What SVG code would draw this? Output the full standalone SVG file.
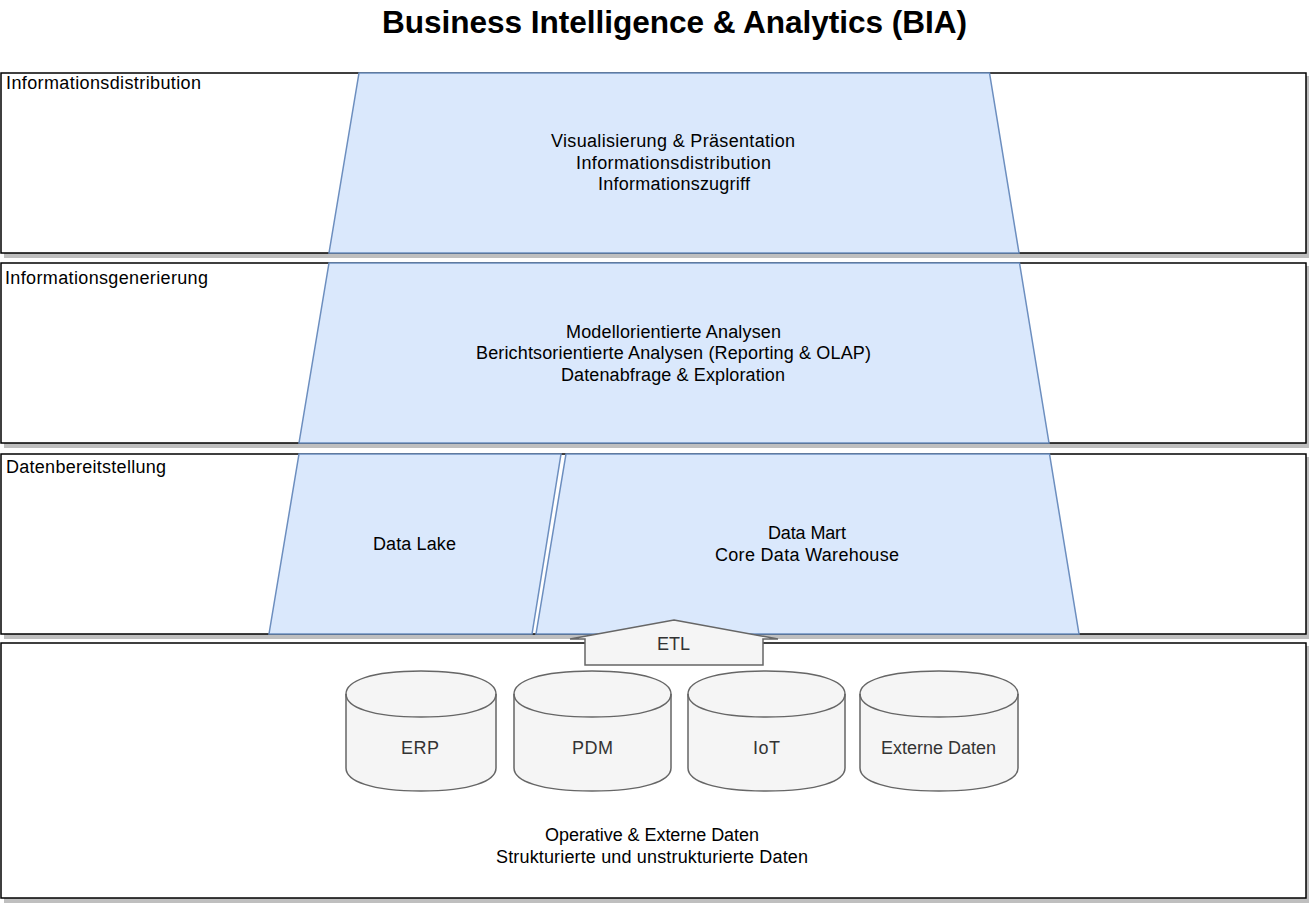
<svg xmlns="http://www.w3.org/2000/svg" width="1311" height="909" viewBox="0 0 1311 909">
<style>
text{font-family:"Liberation Sans",Arial,sans-serif;font-size:18px;fill:#000;text-anchor:middle}
.l{text-anchor:start}
.g{fill:#333}
.t{font-size:31.6px;font-weight:bold}
.layer{fill:#fff;stroke:#000;stroke-width:1.5}
.sh{fill:#bfbfbf}
.tz{fill:#dae8fc;stroke:#6c8ebf;stroke-width:1.5}
.gr{fill:#f5f5f5;stroke:#666;stroke-width:1.5}
</style>
<rect width="1311" height="909" fill="#fff"/>
<text class="t" x="674.5" y="33" textLength="585">Business Intelligence &amp; Analytics (BIA)</text>
<g id="layer-distribution">
<rect class="sh" x="4" y="76" width="1305" height="182"/>
<rect class="layer" x="1" y="73" width="1305" height="180"/>
<text class="l" x="6" y="89" textLength="195">Informationsdistribution</text>
</g>
<g id="layer-generierung">
<rect class="sh" x="4" y="266" width="1305" height="182"/>
<rect class="layer" x="1" y="263" width="1305" height="180"/>
<text class="l" x="5" y="284" textLength="203">Informationsgenerierung</text>
</g>
<g id="layer-bereitstellung">
<rect class="sh" x="4" y="457" width="1305" height="182"/>
<rect class="layer" x="1" y="454" width="1305" height="180"/>
<text class="l" x="6" y="473" textLength="160">Datenbereitstellung</text>
</g>
<g id="layer-daten">
<rect class="sh" x="4" y="646" width="1305" height="257"/>
<rect class="layer" x="1" y="643" width="1305" height="255"/>
<text x="652" y="841" textLength="214">Operative &amp; Externe Daten</text>
<text x="652" y="863" textLength="312">Strukturierte und unstrukturierte Daten</text>
</g>
<g id="visualisierung">
<polygon class="tz" points="359,73 989.500,73 1019,253 329,253"/>
<text x="673" y="147" textLength="244">Visualisierung &amp; Präsentation</text>
<text x="673.500" y="169" textLength="195">Informationsdistribution</text>
<text x="674" y="190" textLength="152">Informationszugriff</text>
</g>
<g id="analysen">
<polygon class="tz" points="329,263 1019.500,263 1049,443 299,443"/>
<text x="673.500" y="338" textLength="215">Modellorientierte Analysen</text>
<text x="673.500" y="359" textLength="395">Berichtsorientierte Analysen (Reporting &amp; OLAP)</text>
<text x="673" y="381" textLength="224">Datenabfrage &amp; Exploration</text>
</g>
<g id="data-lake">
<polygon class="tz" points="299,454 561,454 532,634 269,634"/>
<text x="414.500" y="550" textLength="83">Data Lake</text>
</g>
<g id="data-mart">
<polygon class="tz" points="566,454 1049.500,454 1079,634 536,634"/>
<text x="807" y="539" textLength="78">Data Mart</text>
<text x="807" y="561" textLength="184">Core Data Warehouse</text>
</g>
<g id="etl">
<polygon class="gr" points="674,620 778,639 763,639 763,665 585,665 585,639 570,639"/>
<text class="g" x="673.500" y="650" textLength="33">ETL</text>
</g>
<g id="erp">
<path class="gr" d="M346,694C346,681 371,671 421,671C471,671 496,681 496,694V768C496,781 471,791 421,791C371,791 346,781 346,768Z"/>
<path fill="none" stroke="#666" stroke-width="1.5" d="M346,694C346,707 371,717 421,717C471,717 496,707 496,694"/>
<text class="g" x="420" y="754" textLength="38">ERP</text>
</g>
<g id="pdm">
<path class="gr" d="M514,694C514,681 540,671 592,671C644,671 671,681 671,694V768C671,781 644,791 592,791C540,791 514,781 514,768Z"/>
<path fill="none" stroke="#666" stroke-width="1.5" d="M514,694C514,707 540,717 592,717C644,717 671,707 671,694"/>
<text class="g" x="592.500" y="754" textLength="41">PDM</text>
</g>
<g id="iot">
<path class="gr" d="M688,694C688,681 714,671 766,671C819,671 845,681 845,694V768C845,781 819,791 766,791C714,791 688,781 688,768Z"/>
<path fill="none" stroke="#666" stroke-width="1.5" d="M688,694C688,707 714,717 766,717C819,717 845,707 845,694"/>
<text class="g" x="766.500" y="754" textLength="27">IoT</text>
</g>
<g id="externe-daten">
<path class="gr" d="M860,694C860,681 886,671 939,671C991,671 1018,681 1018,694V768C1018,781 991,791 939,791C886,791 860,781 860,768Z"/>
<path fill="none" stroke="#666" stroke-width="1.5" d="M860,694C860,707 886,717 939,717C991,717 1018,707 1018,694"/>
<text class="g" x="938.500" y="754" textLength="115">Externe Daten</text>
</g>
<g id="connectors"></g>
</svg>
